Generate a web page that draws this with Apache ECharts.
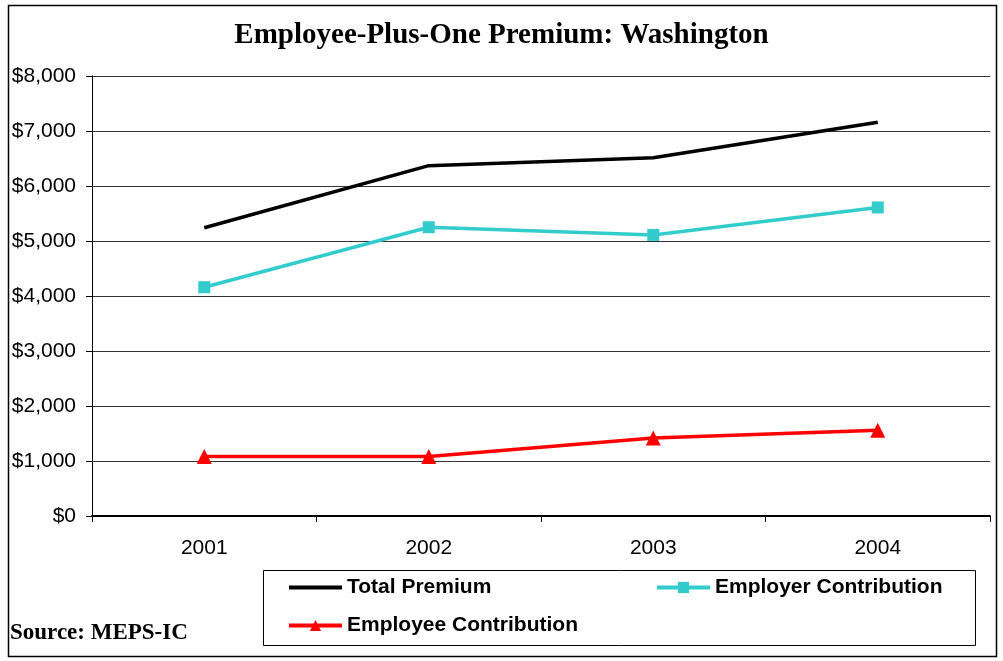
<!DOCTYPE html>
<html><head><meta charset="utf-8">
<script src="https://cdn.jsdelivr.net/npm/echarts@6/dist/echarts.min.js"></script>
<style>html,body{margin:0;padding:0;background:#fff}#c{width:1003px;height:661px}</style>
</head><body><div id="c"></div>
<script>
const categories = ['2001', '2002', '2003', '2004'];
const totalPremium = [5240, 6370, 6515, 7160];
const employerContribution = [4160, 5250, 5110, 5610];
const employeeContribution = [1080, 1080, 1420, 1560];
const yTicks = [0, 1000, 2000, 3000, 4000, 5000, 6000, 7000, 8000];

const chart = echarts.init(document.getElementById('c'), null, {renderer: 'canvas'});
const legendText = {fontFamily: 'Liberation Sans, Arial', fontWeight: 'bold', fontSize: 21, color: '#000'};
function leg(name, left, top, hideSymbol) {
  const l = {data: [name], left: left, top: top, orient: 'horizontal', itemWidth: 53, itemHeight: 14, itemGap: 4,
    textStyle: legendText, selectedMode: false, padding: 0, lineStyle: {width: 4}};
  if (hideSymbol) l.itemStyle = {opacity: 0};
  return l;
}
chart.setOption({
  animation: false,
  title: {text: 'Employee-Plus-One Premium: Washington', left: 'center', top: 16,
    textStyle: {fontFamily: 'Liberation Serif, Times New Roman', fontWeight: 'bold', fontSize: 29, color: '#000'}},
  graphic: [
    {type: 'rect', shape: {x: 8.5, y: 5.5, width: 988, height: 651}, style: {fill: 'none', stroke: '#000', lineWidth: 1.5}, silent: true, z: -1},
    {type: 'rect', shape: {x: 263.5, y: 570.5, width: 712, height: 75}, style: {fill: 'none', stroke: '#000', lineWidth: 1}, silent: true},
    {type: 'text', left: 10, top: 622, style: {text: 'Source: MEPS-IC', fontFamily: 'Liberation Serif, Times New Roman', fontWeight: 'bold', fontSize: 23, fill: '#000'}}
  ],
  legend: [
    leg('Total Premium', 287, 577, true),
    leg('Employer Contribution', 655, 577),
    leg('Employee Contribution', 287, 615)
  ],
  grid: {left: 92, right: 13, top: 76, bottom: 145, containLabel: false},
  xAxis: {
    type: 'category', data: categories, boundaryGap: true,
    axisLine: {lineStyle: {color: '#000', width: 2}},
    axisTick: {show: true, length: 6, lineStyle: {color: '#000'}},
    axisLabel: {fontFamily: 'Liberation Sans, Arial', fontSize: 21, color: '#000', margin: 22},
    splitLine: {show: false}
  },
  yAxis: {
    type: 'value', min: 0, max: 8000, interval: 1000,
    axisLine: {show: true, lineStyle: {color: '#000', width: 1}},
    axisTick: {show: true, length: 6, lineStyle: {color: '#000'}},
    axisLabel: {fontFamily: 'Liberation Sans, Arial', fontSize: 21, color: '#000', margin: 16,
      formatter: v => yTicks.includes(v) ? '$' + v.toLocaleString('en-US') : ''},
    splitLine: {show: true, lineStyle: {color: '#333', width: 1}}
  },
  series: [
    {name: 'Total Premium', type: 'line', data: totalPremium, symbol: 'none', showSymbol: false,
      lineStyle: {color: '#000', width: 3.5}, itemStyle: {color: '#000'}},
    {name: 'Employer Contribution', type: 'line', data: employerContribution, symbol: 'rect', symbolSize: 12,
      lineStyle: {color: '#33CCCC', width: 3.5}, itemStyle: {color: '#33CCCC'}},
    {name: 'Employee Contribution', type: 'line', data: employeeContribution, symbol: 'triangle', symbolSize: 15,
      lineStyle: {color: '#FF0000', width: 3.5}, itemStyle: {color: '#FF0000'}}
  ]
});
</script></body></html>
